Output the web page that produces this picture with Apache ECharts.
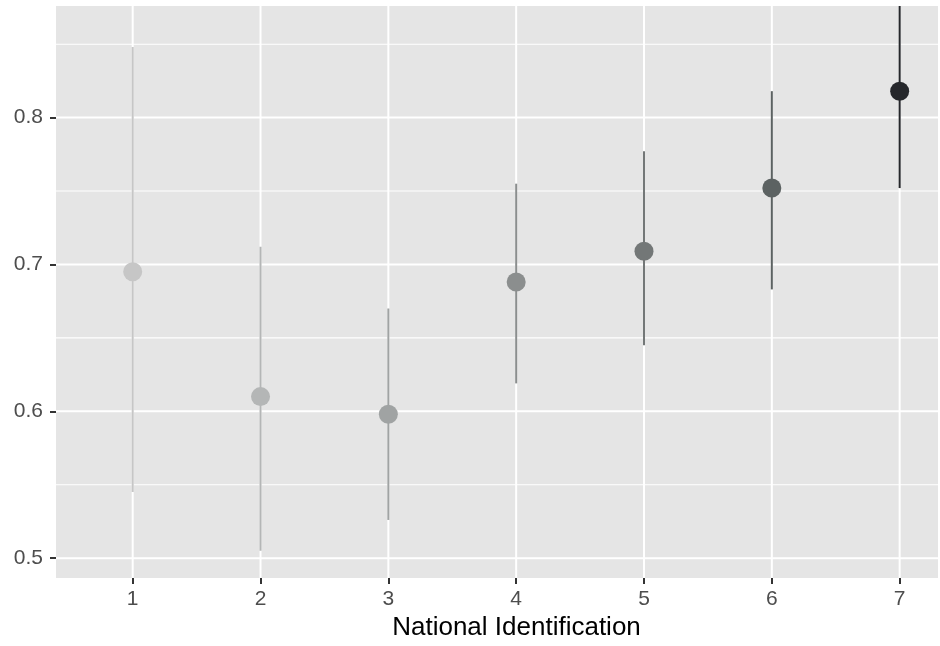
<!DOCTYPE html>
<html>
<head>
<meta charset="utf-8">
<script src="https://cdn.jsdelivr.net/npm/echarts@6/dist/echarts.min.js"></script>
<style>html,body{margin:0;padding:0;background:#fff}#c{width:940px;height:646px}</style>
</head>
<body>
<div id="c"></div>
<script>
const categories = [1, 2, 3, 4, 5, 6, 7];
const estimate = [0.695, 0.610, 0.598, 0.688, 0.709, 0.752, 0.818];
const lower = [0.545, 0.505, 0.526, 0.619, 0.645, 0.683, 0.752];
const upper = [0.848, 0.712, 0.670, 0.755, 0.777, 0.818, 0.885];
const pointColors = ['#c6c6c6', '#b4b6b6', '#a0a3a3', '#8b8e8e', '#737777', '#5c6262', '#25272b'];
const yMajorTicks = [0.5, 0.6, 0.7, 0.8];
const yMinorTicks = [0.55, 0.65, 0.75, 0.85];

const chart = echarts.init(document.getElementById('c'), null, {renderer: 'canvas'});

// grid line records: [orientation (0 = horizontal, 1 = vertical), value, width]
const gridData = [];
yMinorTicks.forEach(v => gridData.push([0, v, 1.1]));
yMajorTicks.forEach(v => gridData.push([0, v, 2]));
categories.forEach(v => gridData.push([1, v, 2]));

chart.setOption({
  animation: false,
  backgroundColor: '#ffffff',
  grid: {left: 56, right: 2, top: 6, bottom: 66, show: true, backgroundColor: '#e5e5e5', borderWidth: 0},
  xAxis: {
    type: 'value', min: 0.4, max: 7.3,
    name: 'National Identification', nameLocation: 'middle', nameGap: 36,
    nameTextStyle: {fontFamily: 'Liberation Sans', fontSize: 26, color: '#000000', padding: [0, 0, 0, 39]},
    axisLine: {show: false},
    axisTick: {show: true, length: 6, lineStyle: {color: '#333333', width: 2}, customValues: categories},
    axisLabel: {fontFamily: 'Liberation Sans', fontSize: 21, color: '#4d4d4d', margin: 11, customValues: categories},
    splitLine: {show: false}
  },
  yAxis: {
    type: 'value', min: 0.4864, max: 0.876,
    axisLine: {show: false},
    axisTick: {show: true, length: 6, lineStyle: {color: '#333333', width: 2}, customValues: yMajorTicks},
    axisLabel: {fontFamily: 'Liberation Sans', fontSize: 21, color: '#4d4d4d', margin: 13, customValues: yMajorTicks,
      formatter: v => v.toFixed(1)},
    splitLine: {show: false}
  },
  series: [
    {
      type: 'custom', z: 1, silent: true, clip: true,
      data: gridData,
      encode: {x: -1, y: -1},
      renderItem: function (params, api) {
        const cs = params.coordSys;
        const o = api.value(0), v = api.value(1), w = api.value(2);
        let shape;
        if (o === 0) {
          const p = api.coord([1, v]);
          shape = {x1: cs.x, y1: p[1], x2: cs.x + cs.width, y2: p[1]};
        } else {
          const p = api.coord([v, 0.6]);
          shape = {x1: p[0], y1: cs.y, x2: p[0], y2: cs.y + cs.height};
        }
        return {type: 'line', shape: shape, style: {stroke: '#ffffff', lineWidth: w}};
      }
    },
    {
      type: 'custom', z: 3, clip: true,
      data: categories.map((c, i) => [c, lower[i], upper[i]]),
      renderItem: function (params, api) {
        const x = api.value(0);
        const lo = api.coord([x, api.value(1)]);
        const hi = api.coord([x, api.value(2)]);
        return {
          type: 'line',
          shape: {x1: lo[0], y1: lo[1], x2: hi[0], y2: hi[1]},
          style: {stroke: pointColors[params.dataIndex], lineWidth: 2}
        };
      }
    },
    {
      type: 'scatter', z: 4, symbol: 'circle', symbolSize: 19,
      data: categories.map((c, i) => ({value: [c, estimate[i]], itemStyle: {color: pointColors[i], opacity: 1}}))
    }
  ]
});
</script>
</body>
</html>
